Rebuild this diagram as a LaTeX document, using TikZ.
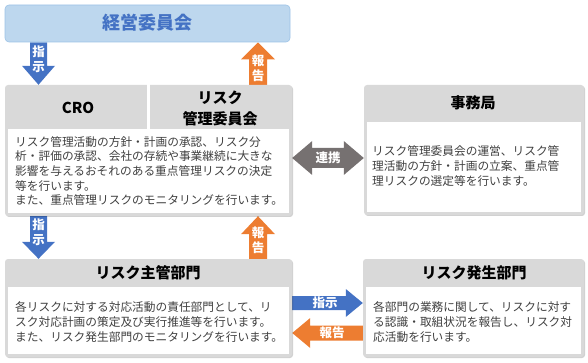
\documentclass[tikz,border=0pt]{standalone}
\usepackage{fontspec}
\setmainfont{Noto Sans CJK JP}
\usetikzlibrary{shadows,calc}
\definecolor{hdgray}{HTML}{D9D9D9}
\definecolor{bluea}{HTML}{4472C4}
\definecolor{orangea}{HTML}{ED7D31}
\definecolor{darkg}{HTML}{767171}
\definecolor{topfill}{HTML}{BDD7EE}
\definecolor{topline}{HTML}{9DC3E6}
\definecolor{bodytxt}{HTML}{404040}
\pgfdeclarelayer{bg}
\pgfsetlayers{bg,main}
% #1 from, #2 to, #3 shaft half width, #4 head half width, #5 head length, #6 colour
\newcommand\blockarrow[6]{%
  \fill[#6] let \p1=(#1), \p2=(#2), \n1={atan2(\y2-\y1,\x2-\x1)}, \n2={veclen(\x2-\x1,\y2-\y1)} in
    [shift={(\p1)}, rotate=\n1]
    (0pt,-#3pt) -- ({\n2-#5pt},-#3pt) -- ({\n2-#5pt},-#4pt) -- ({\n2},0pt)
    -- ({\n2-#5pt},#4pt) -- ({\n2-#5pt},#3pt) -- (0pt,#3pt) -- cycle;}
\newcommand\dblarrow[6]{%
  \fill[#6] let \p1=(#1), \p2=(#2), \n1={atan2(\y2-\y1,\x2-\x1)}, \n2={veclen(\x2-\x1,\y2-\y1)} in
    [shift={(\p1)}, rotate=\n1]
    (0pt,0pt) -- (#5pt,-#4pt) -- (#5pt,-#3pt) -- ({\n2-#5pt},-#3pt) -- ({\n2-#5pt},-#4pt)
    -- ({\n2},0pt) -- ({\n2-#5pt},#4pt) -- ({\n2-#5pt},#3pt) -- (#5pt,#3pt) -- (#5pt,#4pt) -- cycle;}
\tikzset{
  gbox/.style={rectangle, rounded corners=3pt, fill=hdgray, inner sep=0pt,
    drop shadow={shadow xshift=1pt, shadow yshift=-1pt, fill=black, opacity=0.18}},
  wbox/.style={rectangle, fill=white, inner sep=0pt},
  title/.style={font=\fontsize{15}{21}\selectfont\bfseries, text=black, align=center, inner sep=0pt},
  body/.style={font=\fontsize{11.7}{14.6}\selectfont, text=bodytxt, align=left, inner sep=0pt, anchor=west},
  albl/.style={font=\fontsize{12.5}{14.5}\selectfont\bfseries, text=white, align=center, inner sep=0pt},
}
\begin{document}
\begin{tikzpicture}[x=1pt,y=-1pt]
\useasboundingbox (0,0) rectangle (588,363);
% top box
\node[rectangle, rounded corners=4pt, fill=topfill, draw=topline, line width=0.6pt,
  minimum width=285pt, minimum height=37pt, inner sep=0pt] (keiei) at (147.5,23.5) {};
\node[font=\fontsize{18}{20}\selectfont\bfseries, text=bluea, inner sep=0pt] (keieit) at (147.5,23) {経営委員会};
% CRO / committee box
\node[gbox, minimum width=287pt, minimum height=131pt] (crobox) at (148.5,150.5) {};
\fill[white] (147,84) rectangle (150,130);
\node[wbox, minimum width=281pt, minimum height=84pt] (crobody) at (148.5,171) {};
\node[title] (crot) at (78,108) {CRO};
\node[title] (iinkait) at (220,108) {リスク\\管理委員会};
\node[body] (crotx) at (15,171) {リスク管理活動の方針・計画の承認、リスク分\\析・評価の承認、会社の存続や事業継続に大きな\\影響を与えるおそれのある重点管理リスクの決定\\等を行います。\\また、重点管理リスクのモニタリングを行います。};
% secretariat
\node[gbox, minimum width=220pt, minimum height=130pt] (jimubox) at (474,150) {};
\node[wbox, minimum width=214pt, minimum height=90pt] (jimubody) at (474,167) {};
\node[title] (jimut) at (473,103) {事務局};
\node[body] (jimutx) at (372,166) {リスク管理委員会の運営、リスク管\\理活動の方針・計画の立案、重点管\\理リスクの選定等を行います。};
% risk owner
\node[gbox, minimum width=287pt, minimum height=98pt] (shukanbox) at (148.5,308) {};
\node[wbox, minimum width=281pt, minimum height=67pt] (shukanbody) at (148.5,320.5) {};
\node[title] (shukant) at (148,273) {リスク主管部門};
\node[body] (shukantx) at (15,322) {各リスクに対する対応活動の責任部門として、リ\\スク対応計画の策定及び実行推進等を行います。\\また、リスク発生部門のモニタリングを行います。};
% risk occurring
\node[gbox, minimum width=221pt, minimum height=98pt] (hasseibox) at (473.5,308) {};
\node[wbox, minimum width=215pt, minimum height=67pt] (hasseibody) at (473.5,320.5) {};
\node[title] (hasseit) at (474,273) {リスク発生部門};
\node[body] (hasseitx) at (373,322) {各部門の業務に関して、リスクに対す\\る認識・取組状況を報告し、リスク対\\応活動を行います。};
% arrows
\begin{pgfonlayer}{bg}
\blockarrow{keiei.south -| 38.5,0}{crobox.north -| 38.5,0}{8.5}{16.5}{19}{bluea}
\blockarrow{crobox.north -| 258,0}{keiei.south -| 258,0}{9}{17}{17}{orangea}
\blockarrow{crobox.south -| 38.5,0}{shukanbox.north -| 38.5,0}{8.5}{16.5}{17}{bluea}
\blockarrow{shukanbox.north -| 258,0}{crobox.south -| 258,0}{9}{17}{18}{orangea}
\dblarrow{crobox.east |- 0,158}{jimubox.west |- 0,158}{10}{17}{20}{darkg}
\blockarrow{shukanbox.east |- 0,303}{hasseibox.west |- 0,303}{7}{14}{17}{bluea}
\blockarrow{hasseibox.west |- 0,333}{shukanbox.east |- 0,333}{7.5}{15}{18}{orangea}
\end{pgfonlayer}
\node[albl] (l1) at (38.5,59.5) {指\\示};
\node[albl] (l2) at (258,68.5) {報\\告};
\node[albl] (l3) at (38.5,232) {指\\示};
\node[albl] (l4) at (258,240.5) {報\\告};
\node[albl] (l5) at (328,158) {連携};
\node[albl] (l6) at (325,303) {指示};
\node[albl] (l7) at (332,333) {報告};
\end{tikzpicture}
\end{document}
